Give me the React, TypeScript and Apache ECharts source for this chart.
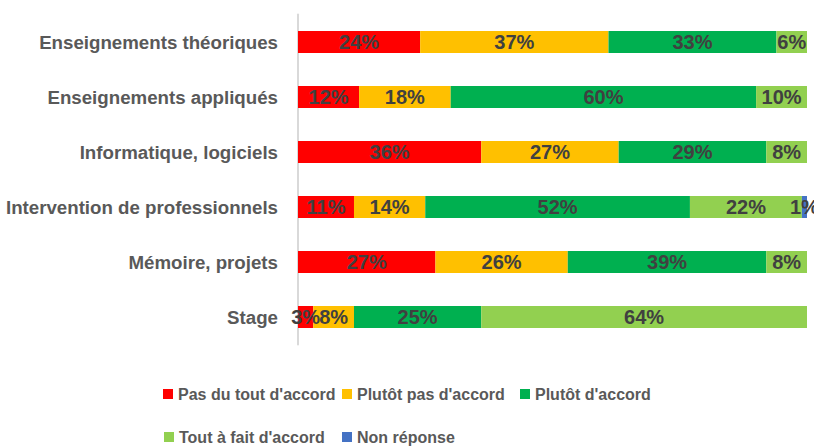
import React, { useEffect, useRef } from "react";
import * as echarts from "echarts";

const categories = [
  "Enseignements théoriques",
  "Enseignements appliqués",
  "Informatique, logiciels",
  "Intervention de professionnels",
  "Mémoire, projets",
  "Stage",
];

const seriesNames = [
  "Pas du tout d'accord",
  "Plutôt pas d'accord",
  "Plutôt d'accord",
  "Tout à fait d'accord",
  "Non réponse",
];

const pasDuTout = [24, 12, 36, 11, 27, 3];
const plutotPas = [37, 18, 27, 14, 26, 8];
const plutotAccord = [33, 60, 29, 52, 39, 25];
const toutAFait = [6, 10, 8, 22, 8, 64];
const nonReponse = [0, 0, 0, 1, 0, 0];

const seriesValues = [pasDuTout, plutotPas, plutotAccord, toutAFait, nonReponse];
const colors = ["#FF0000", "#FFC000", "#00B050", "#92D050", "#4472C4"];

const FONT = "'Liberation Sans', Arial, sans-serif";

export default function App() {
  const ref = useRef<HTMLDivElement>(null);

  useEffect(() => {
    if (!ref.current) return;
    const chart = echarts.init(ref.current, null, { renderer: "svg" });

    const legendPos = [
      { left: 163, top: 386 },
      { left: 342, top: 386 },
      { left: 520, top: 386 },
      { left: 164, top: 429 },
      { left: 342, top: 429 },
    ];

    chart.setOption({
      animation: false,
      backgroundColor: "#ffffff",
      textStyle: { fontFamily: FONT },
      grid: {
        left: 298,
        right: 7,
        top: 14.5,
        bottom: 101.5,
        containLabel: false,
      },
      xAxis: {
        type: "value",
        min: 0,
        max: 100,
        show: false,
      },
      yAxis: {
        type: "category",
        data: categories,
        inverse: true,
        axisLine: { show: true, lineStyle: { color: "#D9D9D9", width: 2 } },
        axisTick: { show: false },
        axisLabel: {
          margin: 20,
          color: "#595959",
          fontSize: 18.7,
          fontWeight: "bold",
          fontFamily: FONT,
        },
        splitLine: { show: false },
      },
      legend: seriesNames.map((name, i) => ({
        data: [name],
        left: legendPos[i].left,
        top: legendPos[i].top,
        padding: 0,
        itemWidth: 10,
        itemHeight: 10,
        icon: "rect",
        selectedMode: false,
        textStyle: {
          color: "#595959",
          fontSize: 16,
          fontWeight: "bold",
          fontFamily: FONT,
        },
      })),
      series: seriesNames.map((name, i) => ({
        name,
        type: "bar",
        stack: "total",
        barWidth: 22,
        data: seriesValues[i],
        itemStyle: { color: colors[i] },
        label: {
          show: true,
          position: "inside",
          formatter: (p: any) => (p.value ? `${p.value}%` : ""),
          color: "#404040",
          fontSize: 20,
          fontWeight: "bold",
          fontFamily: FONT,
        },
      })),
    });

    return () => chart.dispose();
  }, []);

  return (
    <div
      ref={ref}
      style={{ position: "absolute", left: 0, top: 0, width: 814, height: 446 }}
    />
  );
}
